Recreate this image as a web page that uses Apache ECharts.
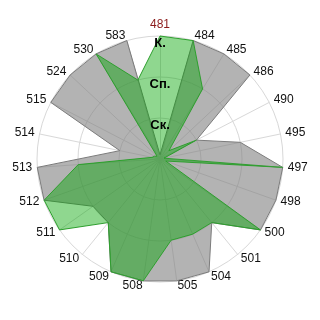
<!DOCTYPE html>
<html>
<head>
<meta charset="utf-8">
<script src="https://cdn.jsdelivr.net/npm/echarts@6/dist/echarts.min.js"></script>
<style>html,body{margin:0;padding:0;background:#fff}#c{width:320px;height:320px}</style>
</head>
<body>
<div id="c"></div>
<script>
// Clockwise from top
var categories = ['481','484','485','486','490','495','497','498','500','501','504','505','508','509','510','511','512','513','514','515','524','530','583'];
var greyValues  = [0.1, 3, 3, 3, 1, 2, 3, 3, 3, 2, 3, 3, 3, 3, 2, 2, 3, 3, 1, 3, 3, 3, 3];
var greenValues = [3, 3, 2, 0.3, 1, 0.1, 3, 0.15, 3, 2, 2, 2, 3, 3, 2, 3, 3, 2, 0.2, 0.15, 0.1, 3, 2];
var ringLabels = ['Ск.', 'Сп.', 'К.'];
var highlightCategory = '481';

// ECharts lays radar indicators out counter-clockwise; reorder to get clockwise
function ccw(arr) { return [arr[0]].concat(arr.slice(1).reverse()); }

var indicators = ccw(categories).map(function (name) {
  var ind = { name: name, min: 0, max: 3 };
  if (name === highlightCategory) ind.color = '#8b1a1a';
  return ind;
});
var labelIndicators = ccw(categories).map(function (name) {
  var ind = { name: name, min: 0, max: 3 };
  if (name === highlightCategory) {
    ind.axisLabel = {
      show: true,
      margin: 0,
      align: 'center',
      verticalAlign: 'top',
      padding: [1, 0, 0, 0],
      color: '#000',
      fontWeight: 'bold',
      fontSize: 13,
      fontFamily: 'Liberation Sans',
      formatter: function (v) { return v >= 1 ? (ringLabels[Math.round(v) - 1] || '') : ''; }
    };
  }
  return ind;
});

var chart = echarts.init(document.getElementById('c'), null, { renderer: 'canvas' });
chart.setOption({
  animation: false,
  backgroundColor: '#fff',
  radar: [{
    center: [160, 159],
    radius: 123,
    startAngle: 90,
    shape: 'circle',
    splitNumber: 3,
    nameGap: 5,
    z: 0,
    axisName: { color: '#111', fontSize: 12, fontFamily: 'Liberation Sans' },
    axisLine: { lineStyle: { color: '#d8d8d8', width: 1 } },
    splitLine: { lineStyle: { color: '#d8d8d8', width: 1 } },
    splitArea: { show: false },
    axisTick: { show: false },
    axisLabel: { show: false },
    indicator: indicators
  }, {
    center: [160, 159],
    radius: 123,
    startAngle: 90,
    shape: 'circle',
    splitNumber: 3,
    z: 10,
    axisName: { show: false },
    axisLine: { show: false },
    splitLine: { show: false },
    splitArea: { show: false },
    axisTick: { show: false },
    axisLabel: { show: false },
    indicator: labelIndicators
  }],
  series: [{
    type: 'radar',
    radarIndex: 0,
    symbol: 'none',
    z: 2,
    data: [
      {
        value: ccw(greyValues),
        lineStyle: { color: '#7a7a7a', width: 1 },
        areaStyle: { color: 'rgba(128,128,128,0.6)', opacity: 1 }
      },
      {
        value: ccw(greenValues),
        lineStyle: { color: '#3d9e3d', width: 1 },
        areaStyle: { color: 'rgba(0,165,0,0.44)', opacity: 1 }
      }
    ]
  }]
});
</script>
</body>
</html>
